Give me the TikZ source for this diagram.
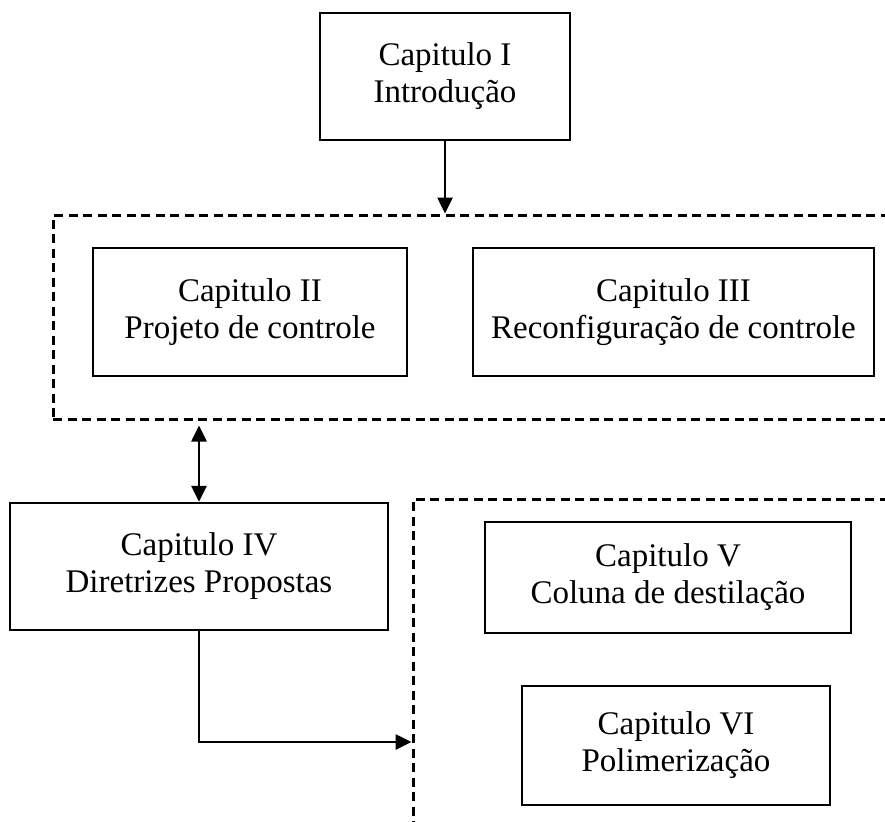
\documentclass[tikz,border=0pt]{standalone}
\usepackage{fontspec}
\setmainfont{Liberation Serif}
\usetikzlibrary{arrows.meta}
\begin{document}
\begin{tikzpicture}[x=1pt,y=-1pt,
  chapbox/.style={draw, line width=2.3pt, rectangle, inner sep=0pt, align=center,
    font=\fontsize{33}{37}\selectfont},
  groupbox/.style={draw, line width=3pt, rectangle, inner sep=0pt,
    dash pattern=on 9pt off 5.5pt},
  link/.style={line width=2.6pt, -{Triangle[length=16pt,width=15pt]}},
  dlink/.style={line width=2.6pt, {Triangle[length=16pt,width=15pt]}-{Triangle[length=16pt,width=15pt]}}]
  \useasboundingbox (0,0) rectangle (885,821);
  \clip (0,0) rectangle (885,821);

  % chapter groups (open towards the page edge)
  \node[groupbox, minimum width=860pt, minimum height=204pt] (grp1) at (483,317) {};
  \node[groupbox, minimum width=500pt, minimum height=360pt] (grp2) at (663,679) {};

  % chapters
  \node[chapbox, minimum width=250pt, minimum height=127pt] (c1) at (445,76.5)
    {Capitulo I\\Introdução};
  \node[chapbox, minimum width=314pt, minimum height=128pt] (c2) at (250,312)
    {Capitulo II\\Projeto de controle};
  \node[chapbox, minimum width=401pt, minimum height=128pt] (c3) at (673.5,312)
    {Capitulo III\\Reconfiguração de controle};
  \node[chapbox, minimum width=378pt, minimum height=127pt] (c4) at (199,566.5)
    {Capitulo IV\\Diretrizes Propostas};
  \node[chapbox, minimum width=366pt, minimum height=111pt] (c5) at (668,577.5)
    {Capitulo V\\Coluna de destilação};
  \node[chapbox, minimum width=308pt, minimum height=119pt] (c6) at (676,745.5)
    {Capitulo VI\\Polimerização};

  % connectors
  \draw[link] (c1.south) -- (c1.south |- grp1.north);
  \draw[dlink] ([yshift=-5pt]c4.north |- grp1.south) -- (c4.north);
  \coordinate (bend) at (c4.south |- 0,742);
  \draw[link] (c4.south) -- (bend) -- (bend -| grp2.west);
\end{tikzpicture}
\end{document}
